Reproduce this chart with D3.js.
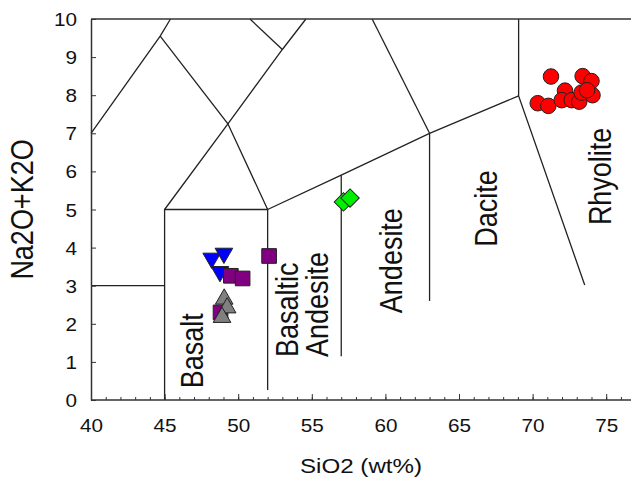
<!DOCTYPE html>
<html>
<head>
<meta charset="utf-8">
<script src="https://cdn.jsdelivr.net/npm/d3@7/dist/d3.min.js"></script>
<style>
html,body{margin:0;padding:0;background:#fff;}
svg{display:block;font-family:"Liberation Sans",Arial,sans-serif;}
</style>
</head>
<body>
<svg id="chart" width="631" height="483"></svg>
<script>
// ---- data ----
const xTicks = [40,45,50,55,60,65,70,75];
const yTicks = [0,1,2,3,4,5,6,7,8,9,10];
const xTitle = "SiO2 (wt%)";
const yTitle = "Na2O+K2O";

// TAS field boundaries (SiO2, Na2O+K2O)
const boundaries = [
  [[40,3],[45,3]],
  [[45,0],[45,5],[52,5],[52,0.26]],
  [[52,5],[57,5.9],[63,7],[69.05,7.98]],
  [[57,5.9],[57,1.15]],
  [[63,7],[63,2.6]],
  [[69.05,10],[69.05,7.98],[73.54,3.02]],
  [[45,5],[49.3,7.25],[53,9.2],[54.6,10]],
  [[52,5],[49.3,7.25],[44.7,9.55]],
  [[40,7],[44.7,9.55],[45.4,10]],
  [[50.8,10],[53,9.2]],
  [[59.1,10],[63,7]]
];

// field names: centre SiO2, bottom (start) Na2O+K2O
const fieldLabels = [
  {lines:["Basalt"], x:46.84, y:0.31},
  {lines:["Basaltic","Andesite"], x:54.33, y:1.13},
  {lines:["Andesite"], x:60.35, y:2.28},
  {lines:["Dacite"], x:66.83, y:4.02},
  {lines:["Rhyolite"], x:74.58, y:4.59}
];

const blueSiO2 = [48.2, 49.03, 48.76];
const blueAlk  = [3.72, 3.85, 3.37];
const purpleSiO2 = [49.5, 50.3, 52.1, 48.8];
const purpleAlk  = [3.26, 3.19, 3.78, 2.3];
const graySiO2 = [49.05, 49.25, 48.9];
const grayAlk  = [2.65, 2.42, 2.17];
const greenSiO2 = [57.15, 57.6];
const greenAlk  = [5.2, 5.3];
const redSiO2 = [71.25, 70.35, 71.07, 72.2, 71.98, 72.66, 73.17, 73.33, 73.4, 74.0, 74.07, 73.7];
const redAlk  = [8.49, 7.79, 7.72, 8.12, 7.87, 7.87, 7.83, 8.07, 8.5, 8.37, 8.0, 8.13];

// ---- drawing ----
const W = 631, H = 483;
const SX = 1.15; // horizontal stretch of text
const svg = d3.select("#chart");
const x = d3.scaleLinear().domain([40,77]).range([91, 91 + 37*14.72]);
const y = d3.scaleLinear().domain([0,10]).range([400,19]);
const ink = "#222";

// boundaries
const line = d3.line().x(d=>x(d[0])).y(d=>y(d[1]));
svg.append("g").selectAll("path").data(boundaries).join("path")
  .attr("d", line).attr("fill","none").attr("stroke","#222").attr("stroke-width",1.3);

// top border
svg.append("line").attr("x1",x(40)).attr("x2",W).attr("y1",y(10)).attr("y2",y(10))
  .attr("stroke","#333").attr("stroke-width",1.5);

// x minor ticks
const minor = d3.range(40,77,1);
svg.append("g").attr("transform",`translate(0,${y(0)})`)
  .call(d3.axisBottom(x).tickValues(minor).tickSizeInner(-3).tickSizeOuter(0).tickFormat(""))
  .call(g=>g.select(".domain").remove())
  .call(g=>g.selectAll("line").attr("stroke","#333"));

// x axis
const gx = svg.append("g").attr("transform",`translate(0,${y(0)})`)
  .call(d3.axisBottom(x).tickValues(xTicks).tickSizeInner(-6).tickSizeOuter(0).tickFormat(d3.format("d")));
gx.select(".domain").attr("d",`M${x(40)},0H${W}`).attr("stroke","#333").attr("stroke-width",1.5);
gx.selectAll(".tick line").attr("stroke","#333");
gx.selectAll("text").attr("y",0).attr("dy",null)
  .attr("transform",`translate(0,32) scale(${SX},1)`)
  .attr("font-size",18).attr("fill","#111").attr("font-family","Liberation Sans, Arial, sans-serif");

// y axis
const gy = svg.append("g").attr("transform",`translate(${x(40)},0)`)
  .call(d3.axisLeft(y).tickValues(yTicks).tickSizeInner(-5).tickSizeOuter(0).tickFormat(d3.format("d")));
gy.select(".domain").attr("stroke","#333").attr("stroke-width",1.5);
gy.selectAll(".tick line").attr("stroke","#333");
gy.selectAll("text").attr("x",0).attr("dy",null).attr("y",6.5)
  .attr("transform",`translate(-14,0) scale(${SX},1)`)
  .attr("font-size",18).attr("fill","#111").attr("font-family","Liberation Sans, Arial, sans-serif");

// axis titles
svg.append("text").text(xTitle)
  .attr("transform",`translate(${(x(40)+W)/2},473) scale(${SX},1)`)
  .attr("text-anchor","middle").attr("font-size",21).attr("fill","#111");
svg.append("text").text(yTitle)
  .attr("transform",`translate(22,${y(5)}) scale(${SX},1) rotate(-90)`)
  .attr("text-anchor","middle").attr("dominant-baseline","central").attr("font-size",27).attr("fill","#111");

// field labels
const FS = 27;
fieldLabels.forEach(l=>{
  const n = l.lines.length;
  const t = svg.append("text")
    .attr("transform",`translate(${x(l.x)},${y(l.y)}) scale(${SX},1) rotate(-90)`)
    .attr("text-anchor","start").attr("font-size",FS).attr("fill","#111");
  l.lines.forEach((s,i)=>{
    t.append("tspan").attr("x",0).attr("y",(i-(n-1)/2)*26.5 + 0.36*FS).text(s);
  });
});

// points
function pts(xs, ys) { return xs.map((v,i)=>[v, ys[i]]); }
function drawSymbols(data, type, size, color, rot) {
  svg.append("g").selectAll("path").data(data).join("path")
    .attr("d", d3.symbol().type(type).size(size))
    .attr("transform", d=>`translate(${x(d[0])},${y(d[1])}) rotate(${rot})`)
    .attr("fill", color).attr("stroke", ink).attr("stroke-width",1);
}
drawSymbols(pts(blueSiO2, blueAlk), d3.symbolTriangle, 135, "#0000ff", 180);
drawSymbols(pts(purpleSiO2, purpleAlk), d3.symbolSquare, 215, "#800080", 0);
drawSymbols(pts(graySiO2, grayAlk), d3.symbolTriangle, 135, "#808080", 0);
drawSymbols(pts(greenSiO2, greenAlk), d3.symbolSquare, 170, "#00ee00", 45);
drawSymbols(pts(redSiO2, redAlk), d3.symbolCircle, 190, "#ff0000", 0);
</script>
</body>
</html>
